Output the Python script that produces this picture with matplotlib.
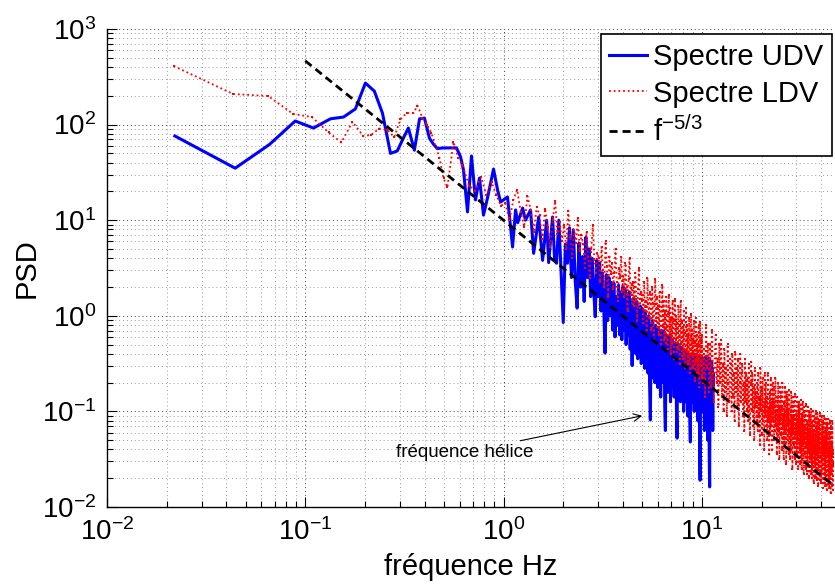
import matplotlib
matplotlib.use("Agg")
import matplotlib.pyplot as plt
import numpy as np
from matplotlib.lines import Line2D
from matplotlib.ticker import LogLocator, LogFormatterSciNotation, NullFormatter


# UDV spectrum, low-frequency part (Hz, PSD)
UDV_F = [0.022, 0.0443, 0.066, 0.089, 0.110, 0.134, 0.156, 0.179, 0.201, 0.223,
         0.245, 0.269, 0.291, 0.310, 0.331, 0.355, 0.377, 0.399, 0.423, 0.444,
         0.464, 0.492, 0.527, 0.579, 0.607, 0.628, 0.658, 0.689, 0.722, 0.756,
         0.792, 0.830, 0.890, 0.933, 0.966, 1.047, 1.110, 1.150, 1.178, 1.248,
         1.290, 1.368, 1.418, 1.503, 1.574, 1.649, 1.688, 1.767, 1.810]
UDV_PSD = [76, 35, 62, 109, 92, 115, 120, 146, 272, 224,
           132, 50, 53, 70, 92, 54, 115, 117, 72, 62,
           56, 57, 57, 57, 46, 33.5, 12.2, 47, 16.3, 27.6,
           11.3, 17.1, 34.3, 20.7, 15.5, 17.5, 5.25, 12.8, 9.4, 13.4,
           10, 12.8, 4.5, 10.8, 3.8, 10, 3.6, 10.8, 3.8]

# UDV spectrum, dense part: log10(PSD) every 0.05 Hz from 1.85 Hz
UDV_HF_START = 1.85
UDV_HF_STEP = 0.05
UDV_HF_LOG = [
    0.55, 1.0, 0.45, -0.07, 0.75, 0.55, 0.92, 0.4, 0.9, 0.35,
    0.08, 0.76, 0.3, 0.62, 0.15, 0.82, 0.4, 0.7, 0.2, 0.6,
    0.25, -0.01, 0.58, 0.2, 0.55, 0.05, 0.45, 0.1, -0.39, 0.43,
    -0.05, 0.4, 0.0, 0.35, -0.15, 0.34, -0.22, 0.2, -0.1, 0.32,
    -0.2, 0.25, -0.25, 0.3, -0.15, 0.28, -0.3, 0.2, -0.2, 0.25,
    -0.35, 0.1, -0.52, 0.18, -0.3, 0.09, -0.4, 0.15, -0.45, 0.05,
    -0.3, 0.1, -0.5, 0.08, -0.4, 0.0, -0.55, 0.05, -0.45, -0.05,
    -0.6, 0.0, -0.7, -1.09, -0.1, -0.65, -0.05, -0.55, -0.12, -0.7,
    -0.1, -0.6, -0.15, -0.75, -0.12, -0.55, -0.18, -0.85, -0.15, -0.6,
    -0.2, -0.7, -0.16, -0.95, -1.2, -0.2, -0.65, -0.22, -0.8, -0.25,
    -0.7, -0.2, -0.9, -0.27, -0.6, -0.25, -0.75, -0.3, -0.85, -0.28,
    -0.65, -0.3, -1.0, -1.28, -0.32, -0.8, -0.3, -0.7, -0.35, -0.9,
    -0.33, -0.75, -0.36, -0.85, -0.35, -1.0, -0.38, -0.7, -0.36, -0.9,
    -0.4, -0.8, -0.38, -1.05, -0.42, -0.75, -0.4, -1.1, -1.32, -0.42,
    -0.85, -0.4, -0.9, -0.43, -0.8, -0.45, -1.0, -0.4, -0.85, -0.44,
    -0.95, -0.42, -0.8, -0.45, -1.1, -0.43, -0.9, -0.46, -1.3, -1.72,
    -0.45, -0.9, -0.43, -0.85, -0.45, -1.0, -0.44, -0.8, -0.46, -1.2,
    -0.45, -0.9, -0.43, -1.05, -0.47, -0.85, -0.45, -1.3, -0.46, -0.95,
    -0.44, -1.5, -1.79, -0.47, -0.9, -0.5, -1.1, -0.48, -0.85, -0.55,
    -1.2, -0.6, -0.75,
]

# LDV spectrum, low-frequency part (Hz, PSD)
LDV_F = [0.0217, 0.0433, 0.065, 0.087, 0.108, 0.131, 0.152, 0.173, 0.196, 0.215,
         0.236, 0.259, 0.281, 0.302, 0.324, 0.351, 0.368, 0.390, 0.411, 0.433,
         0.475, 0.498, 0.521, 0.559, 0.590]
LDV_PSD = [410, 209, 199, 129, 120, 83, 65, 107, 76, 78,
           91, 88, 74, 114, 132, 132, 158, 118, 100, 81,
           45, 27.5, 22, 66, 45]

# LDV spectrum, dense part 1: log10(PSD) every 0.05 Hz from 0.62 Hz
LDV_MID_START = 0.62
LDV_MID_STEP = 0.05
LDV_MID_LOG = [
    1.58, 1.36, 1.31, 1.45, 1.26, 1.4, 1.26, 1.15,
    1.18, 1.0, 1.21, 1.32, 1.09, 0.93, 1.25, 1.11, 0.88, 1.14,
    1.05, 0.8, 1.12, 0.93, 0.72, 1.0, 1.2, 0.86, 0.98, 0.78,
    0.95, 0.7, 1.1, 0.82, 0.6, 0.9, 0.76, 1.02, 0.68, 0.85,
    0.75, 0.5, 0.88, 0.62, 0.4, 0.7, 0.95, 0.58, 0.45, 0.66,
    0.6, 0.35, 0.72, 0.48, 0.3, 0.78, 0.52, 0.2, 0.62, 0.44,
    0.55, 0.28, 0.45, 0.7, 0.35, 0.15, 0.5, 0.4, 0.62, 0.25,
    0.42, 0.2, 0.55, 0.3, 0.05, 0.38, 0.6, 0.22, 0.33, 0.12,
    0.35, 0.1, 0.45, 0.18, -0.05, 0.28, 0.5, 0.08, 0.25, 0.15,
    0.22, -0.08, 0.35, 0.05, 0.15, -0.2, 0.4, 0.12, -0.02, 0.25,
    0.18, -0.15, 0.3, 0.0, -0.25, 0.12, 0.38, -0.05, 0.2, -0.12,
    0.1, -0.2, 0.25, -0.05, -0.3, 0.05, 0.32, -0.12, 0.15, -0.25,
    0.05, -0.28, 0.2, -0.12, -0.35, 0.02, 0.22, -0.2, 0.08, -0.4,
    -0.02, -0.3, 0.15, -0.18, -0.45, -0.05, 0.18, -0.25, 0.0, -0.38,
    -0.08, -0.35, 0.1, -0.22, -0.5, -0.1, 0.15, -0.3, -0.05, -0.42,
    -0.12, -0.45, 0.05, -0.3, -0.55, -0.18, 0.08, -0.38, -0.1, -0.5,
    -0.2, -0.5, -0.02, -0.35, -0.6, -0.22, 0.02, -0.42, -0.15, -0.55,
    -0.25, -0.55, -0.05, -0.4, -0.68, -0.28, -0.02, -0.48, -0.2, -0.6,
    -0.3, -0.6, -0.1, -0.45, -0.75, -0.32, -0.07, -0.52, -0.25, -0.65,
]

# LDV spectrum, dense part 2: log10(PSD) every 0.125 Hz from 10 Hz
LDV_HF_START = 10.0
LDV_HF_STEP = 0.125
LDV_HF_LOG = [
    -0.2, -0.7, -0.35, -0.85, -0.1, -0.55, -0.3, -0.8,
    -0.3, -0.75, -0.15, -0.6, -0.9, -0.4, -0.2, -0.7,
    -0.45, -0.95, -0.3, -0.7, -0.25, -0.85, -0.5, -1.0,
    -0.35, -0.8, -0.55, -1.05, -0.3, -0.7, -0.9, -0.45,
    -0.5, -1.0, -0.4, -0.85, -0.6, -1.1, -0.38, -0.8,
    -0.55, -0.95, -0.45, -1.15, -0.7, -0.4, -0.9, -0.6,
    -0.5, -1.05, -0.7, -1.2, -0.45, -0.9, -0.6, -1.0,
    -0.65, -1.1, -0.5, -0.95, -1.25, -0.7, -0.48, -1.0,
    -0.6, -1.15, -0.75, -1.3, -0.55, -0.95, -0.8, -1.1,
    -0.7, -1.2, -0.6, -1.05, -0.85, -1.35, -0.55, -1.0,
    -0.75, -1.25, -0.65, -1.1, -0.9, -1.4, -0.6, -1.05,
    -0.7, -1.2, -0.85, -1.3, -0.6, -1.1, -0.95, -1.45,
    -0.8, -1.25, -0.65, -1.15, -0.9, -1.4, -0.7, -1.1,
    -0.75, -1.3, -0.9, -1.2, -0.65, -1.15, -1.0, -1.45,
    -0.85, -1.3, -0.7, -1.2, -0.95, -1.5, -0.75, -1.1,
    -0.8, -1.25, -0.95, -1.4, -0.7, -1.15, -1.05, -1.5,
    -0.9, -1.35, -0.75, -1.2, -1.0, -1.55, -0.8, -1.15,
    -0.85, -1.3, -1.0, -1.45, -0.78, -1.2, -1.1, -1.5,
    -0.95, -1.4, -0.8, -1.25, -1.05, -1.6, -0.85, -1.2,
    -0.9, -1.35, -1.05, -1.5, -0.82, -1.25, -1.15, -1.55,
    -1.0, -1.45, -0.85, -1.3, -1.1, -1.6, -0.9, -1.25,
    -0.95, -1.4, -1.1, -1.55, -0.88, -1.3, -1.2, -1.6,
    -1.05, -1.5, -0.9, -1.35, -1.15, -1.65, -0.95, -1.3,
    -1.0, -1.45, -1.15, -1.6, -0.92, -1.35, -1.25, -1.65,
    -1.1, -1.55, -0.95, -1.4, -1.2, -1.7, -1.0, -1.35,
    -1.05, -1.5, -1.2, -1.65, -0.97, -1.4, -1.3, -1.7,
    -1.12, -1.6, -1.0, -1.45, -1.22, -1.75, -1.05, -1.4,
    -1.08, -1.55, -1.25, -1.7, -1.0, -1.45, -1.35, -1.72,
    -1.15, -1.62, -1.02, -1.48, -1.25, -1.78, -1.08, -1.42,
    -1.1, -1.58, -1.28, -1.72, -1.02, -1.48, -1.38, -1.75,
    -1.18, -1.65, -1.05, -1.5, -1.28, -1.8, -1.1, -1.45,
    -1.12, -1.6, -1.3, -1.75, -1.05, -1.5, -1.4, -1.78,
    -1.2, -1.68, -1.08, -1.52, -1.3, -1.82, -1.12, -1.48,
    -1.15, -1.62, -1.32, -1.76, -1.08, -1.52, -1.42, -1.8,
    -1.22, -1.7, -1.1, -1.55, -1.32, -1.85, -1.15, -1.5,
    -1.18, -1.65, -1.35, -1.78, -1.1, -1.55, -1.45, -1.82,
    -1.4,
]

# f^-5/3 reference line end points
REF_F = [0.1, 46.0]
REF_PSD = [464.0, 0.0169]

LEGEND_LABELS = ["Spectre UDV", "Spectre LDV", r"$\mathrm{f}^{-5/3}$"]

BLUE = "#0000FF"
RED = "#FF0000"


def dense(start, step, logs):
    logs = np.asarray(logs, dtype=float)
    return start + step * np.arange(len(logs)), 10 ** logs


def main():
    plt.rcParams.update({
        "font.family": ["Liberation Sans", "DejaVu Sans"],
        "mathtext.fontset": "custom",
        "mathtext.rm": "Liberation Sans",
        "mathtext.it": "Liberation Sans:italic",
        "mathtext.default": "regular",
    })
    fig = plt.figure(figsize=(8.35, 5.86), dpi=100)
    ax = fig.add_axes([107 / 835, 1 - 507 / 586, 727 / 835, 478 / 586])

    hf_f, hf_p = dense(UDV_HF_START, UDV_HF_STEP, UDV_HF_LOG)
    udv_f = np.concatenate([UDV_F, hf_f])
    udv_p = np.concatenate([UDV_PSD, hf_p])

    mf, mp = dense(LDV_MID_START, LDV_MID_STEP, LDV_MID_LOG)
    lf, lp = dense(LDV_HF_START, LDV_HF_STEP, LDV_HF_LOG)
    ldv_f = np.concatenate([LDV_F, mf, lf])
    ldv_p = np.concatenate([LDV_PSD, mp, lp])

    ax.loglog(udv_f, udv_p, color=BLUE, lw=2.2)
    ax.loglog(ldv_f, ldv_p, color=RED, lw=1.3, ls=(0, (1, 1.6)),
              marker="s", ms=1.9, mew=0)
    ref, = ax.loglog(REF_F, REF_PSD, color="k", lw=2.0, ls="--")
    ref.set_dashes([2.9, 1.8])

    ax.set_xlim(0.01, 46.4)
    ax.set_ylim(0.01, 1000)

    for axis in (ax.xaxis, ax.yaxis):
        axis.set_major_locator(LogLocator(base=10))
        axis.set_minor_locator(LogLocator(base=10, subs=np.arange(2, 10)))
        axis.set_major_formatter(LogFormatterSciNotation())
        axis.set_minor_formatter(NullFormatter())

    ax.grid(which="major", color="0.25", lw=0.7, ls=(0, (1, 3)))
    ax.grid(which="minor", color="0.6", lw=0.7, ls=(0, (1, 3)))
    ax.set_axisbelow(True)

    for s in ("top", "right"):
        ax.spines[s].set_visible(False)
    for s in ("left", "bottom"):
        ax.spines[s].set_linewidth(1.0)
    ax.tick_params(which="both", direction="in", labelsize=20, width=0.8)
    ax.tick_params(which="major", length=7, pad=8)
    ax.tick_params(which="minor", length=4)

    ax.set_xlabel("fréquence Hz", fontsize=21, labelpad=5)
    ax.set_ylabel("PSD", fontsize=21, labelpad=1)

    ax.annotate("fréquence hélice", xy=(5.0, 0.09), xytext=(0.64, 0.0376),
                fontsize=13.5, ha="center", va="center",
                arrowprops=dict(arrowstyle="->", color="k", lw=0.8, shrinkA=0, shrinkB=0))

    handles = [
        Line2D([], [], color=BLUE, lw=2.2),
        Line2D([], [], color=RED, lw=1.3, ls=(0, (1, 1.6))),
        Line2D([], [], color="k", lw=2.0, dashes=[2.9, 1.8]),
    ]
    leg = ax.legend(handles, LEGEND_LABELS, loc="upper right",
                    bbox_to_anchor=(832 / 835, 1 - 34 / 586),
                    bbox_transform=fig.transFigure, borderaxespad=0, fontsize=21,
                    fancybox=False, framealpha=1, edgecolor="k",
                    handlelength=1.3, handletextpad=0.2, labelspacing=0.3,
                    borderpad=0.3)
    leg.get_frame().set_linewidth(1.2)

    fig.savefig("out.png", dpi=100)
    plt.close(fig)


if __name__ == "__main__":
    main()
